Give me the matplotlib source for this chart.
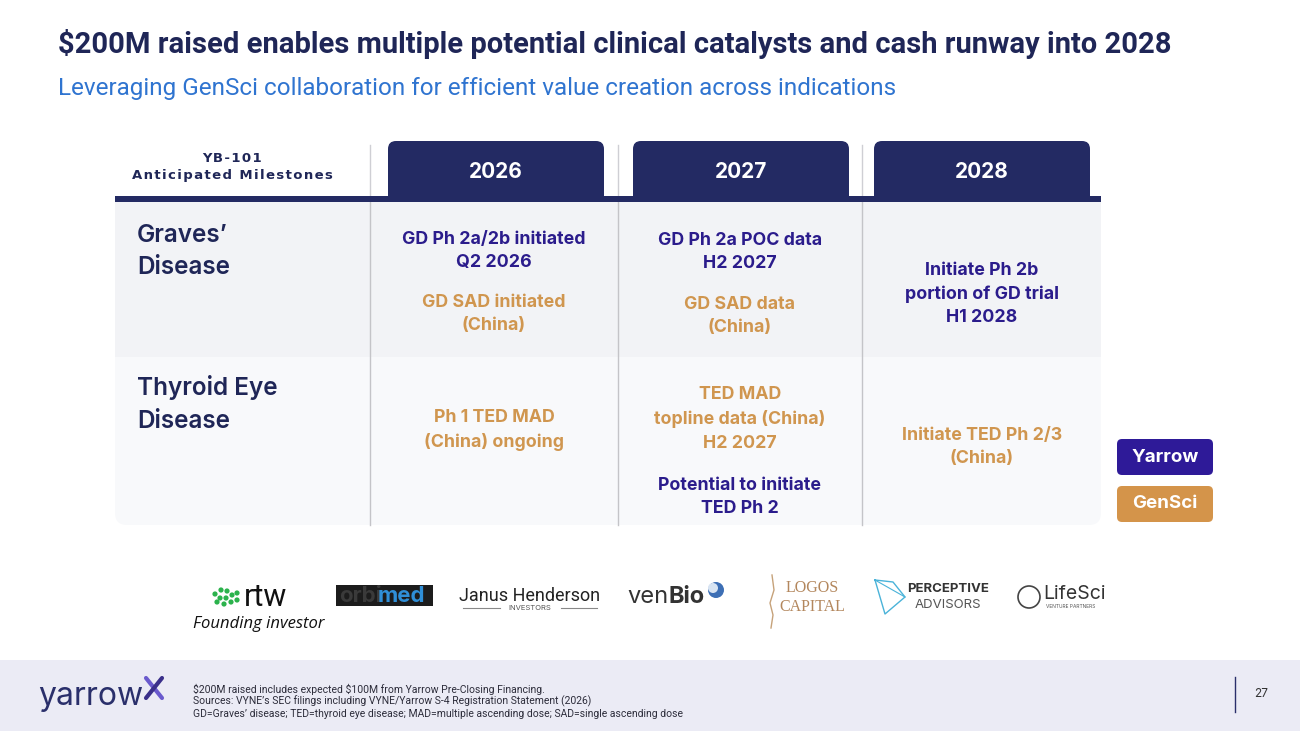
import matplotlib
matplotlib.use("Agg")
import matplotlib.pyplot as plt
from matplotlib.patches import FancyBboxPatch, Rectangle, Circle

plt.rcParams['font.family'] = ['Inter', 'DejaVu Sans']

# ---------------- content ----------------
title = "$200M raised enables multiple potential clinical catalysts and cash runway into 2028"
subtitle = "Leveraging GenSci collaboration for efficient value creation across indications"
header_label = ["YB-101", "Anticipated Milestones"]
years = ["2026", "2027", "2028"]
rows = ["Graves’\nDisease", "Thyroid Eye\nDisease"]
# each cell: list of (text, owner)
cells = [
    [
        [("GD Ph 2a/2b initiated\nQ2 2026", "Yarrow"), ("GD SAD initiated\n(China)", "GenSci")],
        [("GD Ph 2a POC data\nH2 2027", "Yarrow"), ("GD SAD data\n(China)", "GenSci")],
        [("Initiate Ph 2b\nportion of GD trial\nH1 2028", "Yarrow")],
    ],
    [
        [("Ph 1 TED MAD\n(China) ongoing", "GenSci")],
        [("TED MAD\ntopline data (China)\nH2 2027", "GenSci"), ("Potential to initiate\nTED Ph 2", "Yarrow")],
        [("Initiate TED Ph 2/3\n(China)", "GenSci")],
    ],
]
legend_items = ["Yarrow", "GenSci"]
investors = ["rtw", "orbimed", "Janus Henderson", "venBio", "LOGOS CAPITAL",
             "PERCEPTIVE ADVISORS", "LifeSci"]
footnotes = [
    "$200M raised includes expected $100M from Yarrow Pre-Closing Financing.",
    "Sources: VYNE’s SEC filings including VYNE/Yarrow S-4 Registration Statement (2026)",
    "GD=Graves’ disease; TED=thyroid eye disease; MAD=multiple ascending dose; SAD=single ascending dose",
]
page_number = "27"

# ---------------- styles ----------------
NAVY = "#232a63"
TITLE_C = "#1f2657"
SUB_C = "#2f74d0"
YARROW_C = "#2e1a98"
GENSCI_C = "#d4944a"
GENSCI_TXT = "#d0964f"
YARROW_TXT = "#2b1c8c"
ROW1_BG = "#f2f3f6"
ROW2_BG = "#f8f9fb"
owner_color = {"Yarrow": YARROW_TXT, "GenSci": GENSCI_TXT}
legend_color = {"Yarrow": YARROW_C, "GenSci": GENSCI_C}
HEAD_FONT = ["Roboto", "DejaVu Sans"]

W, H = 1300, 731
fig = plt.figure(figsize=(13, 7.31), dpi=100)
ax = fig.add_axes([0, 0, 1, 1])
ax.set_xlim(0, W)
ax.set_ylim(H, 0)
ax.axis("off")

# title
ax.text(58, 44, title, fontsize=21, fontweight="bold", color=TITLE_C,
        va="center", ha="left", family=HEAD_FONT, parse_math=False)
ax.text(58, 89, subtitle, fontsize=17.5, color=SUB_C, va="center", ha="left",
        family=HEAD_FONT)

# table geometry
tab_left, tab_right = 115, 1101
col_edges = [370, 618, 862, tab_right]
row_edges = [202, 357, 525]
tab_x = [(388, 604), (633, 849), (874, 1090)]

# row backgrounds
ax.add_patch(Rectangle((tab_left, row_edges[0]), tab_right - tab_left,
                       row_edges[1] - row_edges[0], fc=ROW1_BG, ec="none", zorder=1))
ax.add_patch(FancyBboxPatch((tab_left + 10, row_edges[1] + 10), tab_right - tab_left - 20,
                            row_edges[2] - row_edges[1] - 20,
                            boxstyle="round,pad=10,rounding_size=12",
                            fc=ROW2_BG, ec="none", zorder=1))
ax.add_patch(Rectangle((tab_left, row_edges[1]), tab_right - tab_left, 30,
                       fc=ROW2_BG, ec="none", zorder=1))

# year tabs (bottom hidden beneath the header rule / first row)
for (x0, x1), yr in zip(tab_x, years):
    ax.add_patch(FancyBboxPatch((x0 + 8, 149), x1 - x0 - 16, 50,
                                boxstyle="round,pad=8,rounding_size=8",
                                fc=NAVY, ec="none", zorder=0.5))
    ax.text((x0 + x1) / 2, 172, yr, fontsize=15, fontweight="bold", color="white",
            ha="center", va="center", zorder=4)

# thick header line
ax.add_patch(Rectangle((tab_left, 196), tab_right - tab_left, 6, fc=NAVY, ec="none", zorder=3))

# vertical separators
for x in col_edges[:-1]:
    ax.plot([x, x], [145, 196], color="#cfcfd4", lw=1.0, zorder=2)
    ax.plot([x, x], [202, row_edges[2]], color="#c4c4c8", lw=1.0, zorder=2)

# header label (letter-spaced)
def spaced(s):
    return "\u200a".join(s)
ax.text(232, 158, spaced(header_label[0]), fontsize=9.5, fontweight="bold", color=TITLE_C,
        ha="center", va="center", family=["DejaVu Sans"])
ax.text(232, 175, spaced(header_label[1]),
        fontsize=9.5, fontweight="bold", color=TITLE_C, ha="center", va="center",
        family=["DejaVu Sans"])

# row labels
row_label_y = [251, 404]
for lab, y in zip(rows, row_label_y):
    ax.text(137, y, lab, fontsize=17.5, fontweight="semibold", color=TITLE_C,
            ha="left", va="center", linespacing=1.5)

# cell content positions (y centres of each block)
cell_y = [
    [[251, 314], [252, 316], [294]],
    [[430], [419, 497], [447]],
]
col_centers = [494, 740, 982]
for r in range(2):
    for c in range(3):
        for (txt, owner), y in zip(cells[r][c], cell_y[r][c]):
            ax.text(col_centers[c], y, txt, fontsize=12.8, fontweight="bold",
                    color=owner_color[owner], ha="center", va="center",
                    linespacing=1.5, zorder=5)

# legend
for i, item in enumerate(legend_items):
    y0 = 439 + i * 47
    ax.add_patch(FancyBboxPatch((1121, y0 + 4), 88, 28,
                                boxstyle="round,pad=4,rounding_size=5",
                                fc=legend_color[item], ec="none", zorder=3))
    ax.text(1165, y0 + 18, item, fontsize=13.5, fontweight="bold", color="white",
            ha="center", va="center", zorder=4)

# ---------------- investor logos (approximated with text) ----------------
# rtw
for dx, dy in [(0, 0), (6, -4), (12, -3), (5, 4), (11, 4), (17, 1), (2, 8), (9, 10), (16, 8), (22, -1), (22, 6)]:
    ax.add_patch(Circle((215 + dx, 594 + dy), 2.6, fc="#2bb24c", ec="none"))
ax.text(244, 597, investors[0], fontsize=22, color="#111111", ha="left", va="center",
        family=HEAD_FONT)
ax.text(193, 624, "Founding investor", fontsize=12, style="italic", color="#111111",
        ha="left", va="center", family=["Open Sans", "DejaVu Sans"])
# orbimed
ax.add_patch(Rectangle((336, 585), 97, 21, fc="#1c1c1c", ec="none"))
ax.text(339, 596, "orbi", fontsize=16, fontweight="bold", color="#3a3a3a", ha="left", va="center")
ax.text(378, 596, "med", fontsize=16, fontweight="bold", color="#2f8fd8", ha="left", va="center")
# Janus Henderson
ax.text(530, 596, "Janus Henderson", fontsize=13, color="#222222", ha="center", va="center",
        family=["Roboto", "DejaVu Sans"])
ax.plot([463, 500], [608, 608], color="#888888", lw=0.8)
ax.plot([561, 597], [608, 608], color="#888888", lw=0.8)
ax.text(530, 608, "INVESTORS", fontsize=5.5, color="#555555", ha="center", va="center")
# venBio
ax.text(627, 597, "ven", fontsize=17, color="#333333", ha="left", va="center")
ax.text(668, 597, "Bio", fontsize=17, fontweight="bold", color="#333333", ha="left", va="center")
ax.add_patch(Circle((716, 590), 8, fc="#3d6fb5", ec="none"))
ax.add_patch(Circle((713, 588), 5, fc="#d8e4f2", ec="none"))
# LOGOS CAPITAL
ax.plot([772, 774, 770, 773, 771], [575, 590, 603, 615, 628], color="#c6a27a", lw=1)
ax.text(812, 588, "LOGOS", fontsize=11.5, color="#b3875d", ha="center", va="center",
        family=["Liberation Serif", "DejaVu Serif"])
ax.text(812, 607, "CAPITAL", fontsize=11.5, color="#b3875d", ha="center", va="center",
        family=["Liberation Serif", "DejaVu Serif"])
# PERCEPTIVE ADVISORS
ax.plot([875, 893, 905, 885, 875], [580, 582, 597, 614, 580], color="#4ab3d9", lw=1)
ax.plot([875, 905], [580, 597], color="#4ab3d9", lw=0.8)
ax.text(948, 589, "PERCEPTIVE", fontsize=9.5, fontweight="bold", color="#333333", ha="center", va="center")
ax.text(948, 605, "ADVISORS", fontsize=9.5, color="#555555", ha="center", va="center")
# LifeSci
ax.add_patch(Circle((1029, 597), 11, fc="none", ec="#444444", lw=1.2))
ax.text(1043, 594, "LifeSci", fontsize=14, color="#333333", ha="left", va="center")
ax.text(1046, 606, "VENTURE PARTNERS", fontsize=3.5, color="#555555", ha="left", va="center")

# ---------------- footer ----------------
ax.add_patch(Rectangle((0, 660), W, H - 660, fc="#ebebf5", ec="none"))
ax.text(38, 697, "yarrow", fontsize=23, color="#2a2f6b", ha="left", va="center")
ax.plot([146, 162], [678, 698], color="#6a5acd", lw=3, solid_capstyle="round")
ax.plot([162, 146], [678, 698], color="#3a2f8a", lw=3, solid_capstyle="round")
for i, line in enumerate(footnotes):
    ax.text(193, 689 + i * 12.5, line, fontsize=7.5, color="#2c2c3a", ha="left", va="center",
            family=["Roboto", "DejaVu Sans"], parse_math=False)
ax.plot([1235, 1235], [677, 712], color="#2a2f6b", lw=1)
ax.text(1261, 694, page_number, fontsize=8.5, color="#333333", ha="center", va="center")

fig.savefig("out.png", dpi=100, facecolor="white")
